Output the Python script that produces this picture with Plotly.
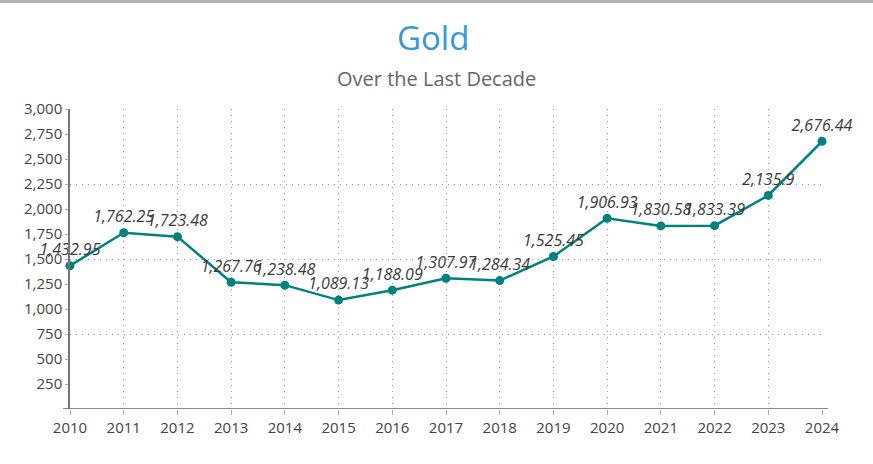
import plotly.graph_objects as go

years = [2010, 2011, 2012, 2013, 2014, 2015, 2016, 2017, 2018, 2019, 2020, 2021, 2022, 2023, 2024]
prices = [1432.95, 1762.25, 1723.48, 1267.76, 1238.48, 1089.13, 1188.09, 1307.97,
          1284.34, 1525.45, 1906.93, 1830.58, 1833.39, 2135.9, 2676.44]
y_ticks = [250, 500, 750, 1000, 1250, 1500, 1750, 2000, 2250, 2500, 2750, 3000]
title_text = "Gold"
subtitle_text = "Over the Last Decade"

labels = [f"{v:,}" for v in prices]

W, H = 873, 464
ML, MR, MT, MB = 70, 51, 109, 55
pw, ph = W - ML - MR, H - MT - MB
FONT = "Open Sans"
DOT = "1px,5px"

fig = go.Figure()
fig.add_trace(go.Scatter(
    x=years, y=prices, mode="lines+markers+text",
    line=dict(color="#008080", width=2.5),
    marker=dict(color="#008080", size=9),
    text=labels, textposition="top center",
    textfont=dict(family=FONT, size=16, color="#3a3a3a", style="italic"),
    cliponaxis=False, hoverinfo="x+y", showlegend=False,
))
# invisible trace so the gridline axis is drawn
fig.add_trace(go.Scatter(
    x=[years[0]], y=[prices[0]], yaxis="y2", mode="markers",
    marker=dict(opacity=0), hoverinfo="skip", showlegend=False,
))

fig.update_layout(
    width=W, height=H,
    margin=dict(l=ML, r=MR, t=MT, b=MB, pad=0),
    paper_bgcolor="white", plot_bgcolor="white",
    font=dict(family=FONT, color="#444444", size=15),
    xaxis=dict(
        range=[2010, 2024], tickmode="array", tickvals=years,
        ticktext=[str(y) for y in years],
        showgrid=True, gridcolor="#999999", griddash=DOT, gridwidth=1,
        showline=False, zeroline=False,
        ticks="outside", ticklen=5, tickcolor="#aaaaaa", tickwidth=1,
        tickfont=dict(size=15, color="#444444"),
    ),
    yaxis=dict(
        range=[0, 3000], tickmode="array", tickvals=y_ticks,
        tickformat=",", showgrid=False, zeroline=False,
        showline=True, linecolor="#777777", linewidth=1.5,
        ticks="outside", ticklen=3, tickcolor="#aaaaaa", tickwidth=1,
        tickfont=dict(size=15, color="#444444"),
    ),
    yaxis2=dict(
        range=[0, 3000], overlaying="y", anchor="x", side="left",
        tickmode="linear", tick0=0, dtick=750,
        showgrid=True, gridcolor="#999999", griddash=DOT, gridwidth=1,
        showticklabels=False, showline=False, zeroline=False, ticks="",
    ),
    annotations=[
        dict(text=title_text, xref="paper", yref="paper",
             x=0.5 - (ML - MR) / 2 / pw - 4 / pw, y=(H - MB - 37) / ph,
             xanchor="center", yanchor="middle", showarrow=False,
             font=dict(family=FONT, size=33, color="#3498db")),
        dict(text=subtitle_text, xref="paper", yref="paper",
             x=0.5 - (ML - MR) / 2 / pw, y=(H - MB - 78) / ph,
             xanchor="center", yanchor="middle", showarrow=False,
             font=dict(family=FONT, size=20, color="#666666")),
    ],
    shapes=[
        dict(type="line", xref="paper", yref="y", x0=-7 / pw, x1=1 + 6 / pw, y0=0, y1=0,
             line=dict(color="#666666", width=1.5), layer="above"),
        dict(type="line", xref="paper", yref="paper", x0=-ML / pw, x1=1 + MR / pw,
             y0=(H - MB - 1.5) / ph, y1=(H - MB - 1.5) / ph,
             line=dict(color="#b3b3b3", width=3)),
    ],
)

fig.write_html("out.html", config={"displayModeBar": False},
               post_script="document.body.style.margin='0';")
